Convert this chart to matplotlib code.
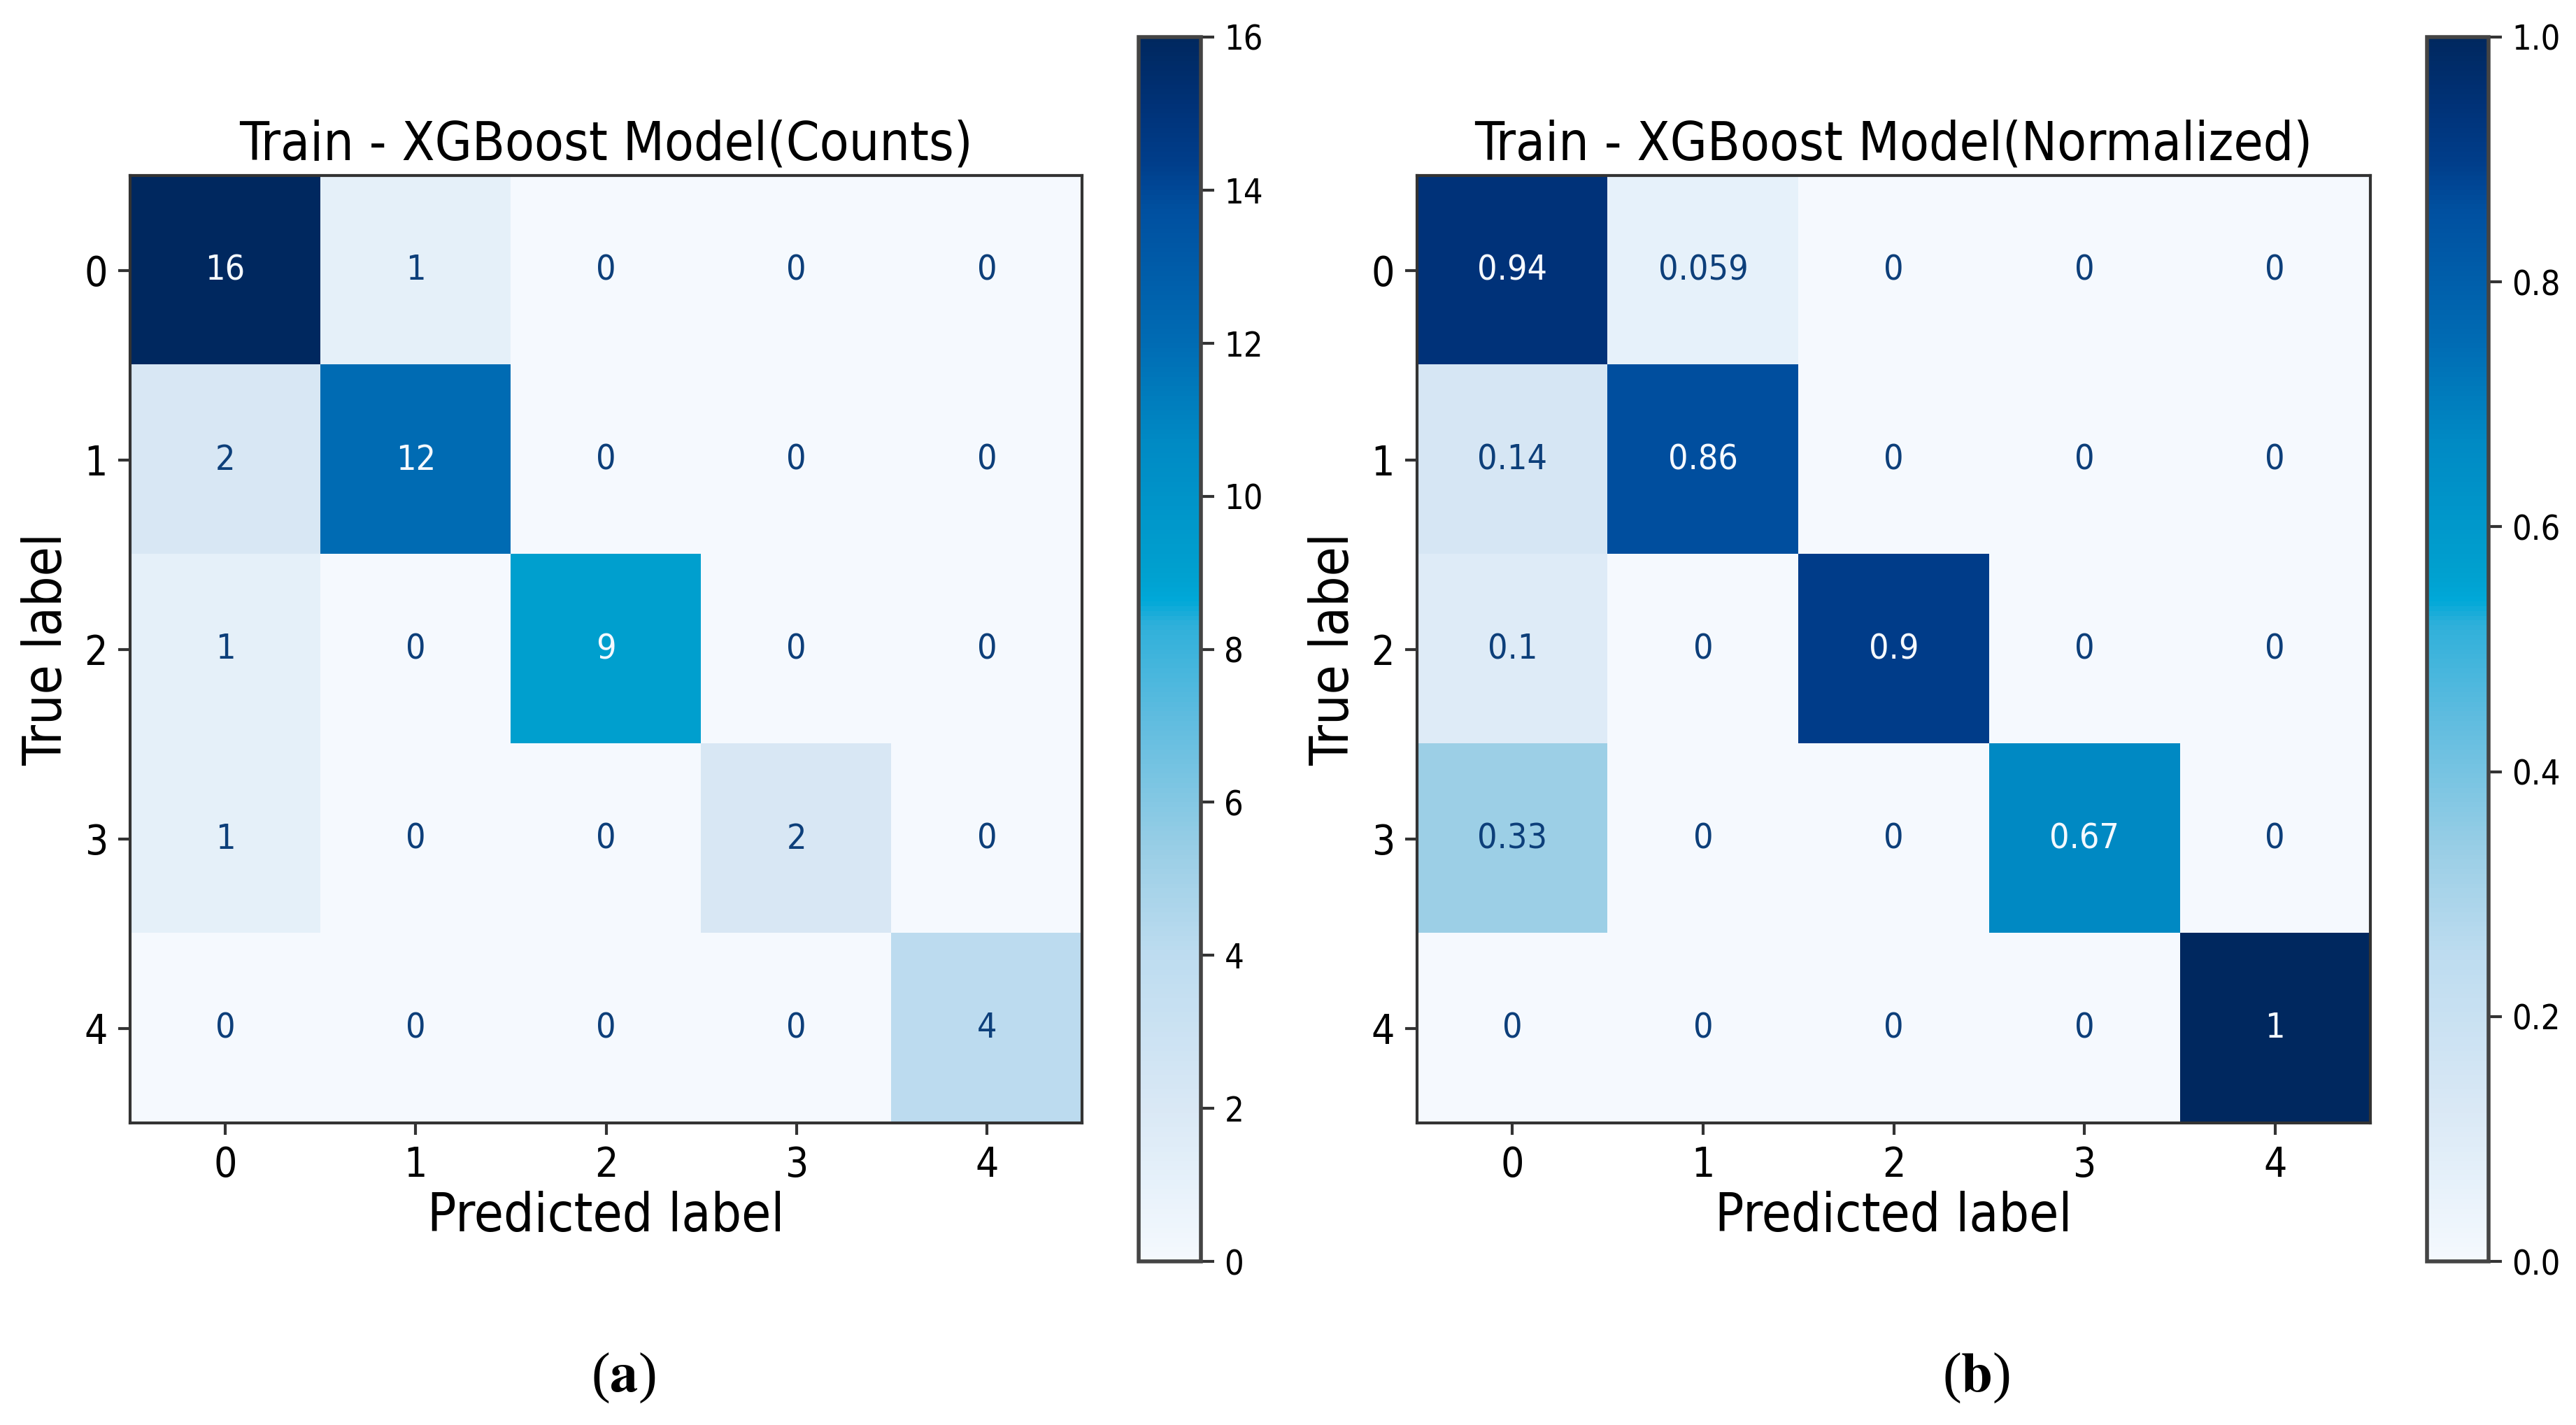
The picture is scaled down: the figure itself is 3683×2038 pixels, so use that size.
import numpy as np
import matplotlib
matplotlib.use("Agg")
import matplotlib.pyplot as plt
from matplotlib.colors import LinearSegmentedColormap

# data
classes = ["0", "1", "2", "3", "4"]
counts = [
    [16, 1, 0, 0, 0],
    [2, 12, 0, 0, 0],
    [1, 0, 9, 0, 0],
    [1, 0, 0, 2, 0],
    [0, 0, 0, 0, 4],
]
normalized = [
    [0.94, 0.059, 0, 0, 0],
    [0.14, 0.86, 0, 0, 0],
    [0.1, 0, 0.9, 0, 0],
    [0.33, 0, 0, 0.67, 0],
    [0, 0, 0, 0, 1],
]
titles = ["Train - XGBoost Model(Counts)", "Train - XGBoost Model(Normalized)"]
captions = ["a", "b"]
cbar_ticks_counts = [0, 2, 4, 6, 8, 10, 12, 14, 16]
cbar_ticks_norm = [0.0, 0.2, 0.4, 0.6, 0.8, 1.0]

plt.rcParams["font.family"] = "DejaVu Sans"
plt.rcParams["font.stretch"] = "condensed"
plt.rcParams["mathtext.fontset"] = "stix"

# colour scale (a brighter variant of Blues)
cmap = LinearSegmentedColormap.from_list("blues_ref", [
    (0.0, "#f5f9fe"), (0.0625, "#e6f1fa"), (0.125, "#d9e8f5"),
    (0.25, "#bddcf0"), (0.33, "#9ccfe6"), (0.45, "#5bbbdf"),
    (0.52, "#2fb0da"), (0.54, "#00a8d8"), (0.5625, "#00a0cf"),
    (0.67, "#008ac4"), (0.75, "#006cb4"), (0.86, "#0050a0"),
    (0.9, "#003d8a"), (0.94, "#00337a"), (1.0, "#00285f"),
])

W, H = 3683, 2038
fig = plt.figure(figsize=(W / 100, H / 100), dpi=100)


def px_axes(x0, y0, x1, y1):
    return fig.add_axes([x0 / W, 1 - y1 / H, (x1 - x0) / W, (y1 - y0) / H])


def draw_cm(ax, cax, cm, vmax, title, ticks, fmt_tick):
    cm = np.array(cm, dtype=float)
    im = ax.imshow(cm, cmap=cmap, vmin=0, vmax=vmax, aspect="auto",
                   interpolation="nearest")
    thresh = vmax / 2.0
    for i in range(cm.shape[0]):
        for j in range(cm.shape[1]):
            v = cm[i, j]
            color = cmap(0.0) if v > thresh else "#0d3f7a"
            ax.text(j, i, format(v, ".2g"), ha="center", va="center",
                    fontsize=36, color=color)
    ax.set_xticks(range(len(classes)))
    ax.set_yticks(range(len(classes)))
    ax.set_xticklabels(classes)
    ax.set_yticklabels(classes)
    ax.tick_params(labelsize=42, length=12, width=3, pad=11, color="#333333")
    ax.set_xlabel("Predicted label", fontsize=55, labelpad=6)
    ax.set_ylabel("True label", fontsize=55, labelpad=12)
    ax.set_title(title, fontsize=55, pad=16)
    for s in ax.spines.values():
        s.set_linewidth(3)
        s.set_color("#333333")

    cb = fig.colorbar(im, cax=cax, ticks=ticks)
    cb.ax.set_yticklabels([fmt_tick(t) for t in ticks])
    cb.ax.tick_params(labelsize=35, length=14, width=3, pad=10, color="#333333")
    cb.outline.set_linewidth(4)
    cb.outline.set_edgecolor("#444444")


ax1 = px_axes(186, 251, 1547, 1606)
cax1 = px_axes(1628, 53, 1717, 1804)
ax2 = px_axes(2026, 251, 3389, 1606)
cax2 = px_axes(3470, 53, 3558, 1804)

draw_cm(ax1, cax1, counts, 16, titles[0], cbar_ticks_counts, lambda t: f"{t:d}")
draw_cm(ax2, cax2, normalized, 1.0, titles[1], cbar_ticks_norm, lambda t: f"{t:.1f}")

for x, c in zip([891, 2825], captions):
    fig.text(x / W, 1 - 1971 / H, "($\\mathbf{" + c + "}$)", ha="center", va="center",
             fontsize=58, family="Liberation Serif", stretch="normal")

fig.savefig("out.png", dpi=100, facecolor="white")
